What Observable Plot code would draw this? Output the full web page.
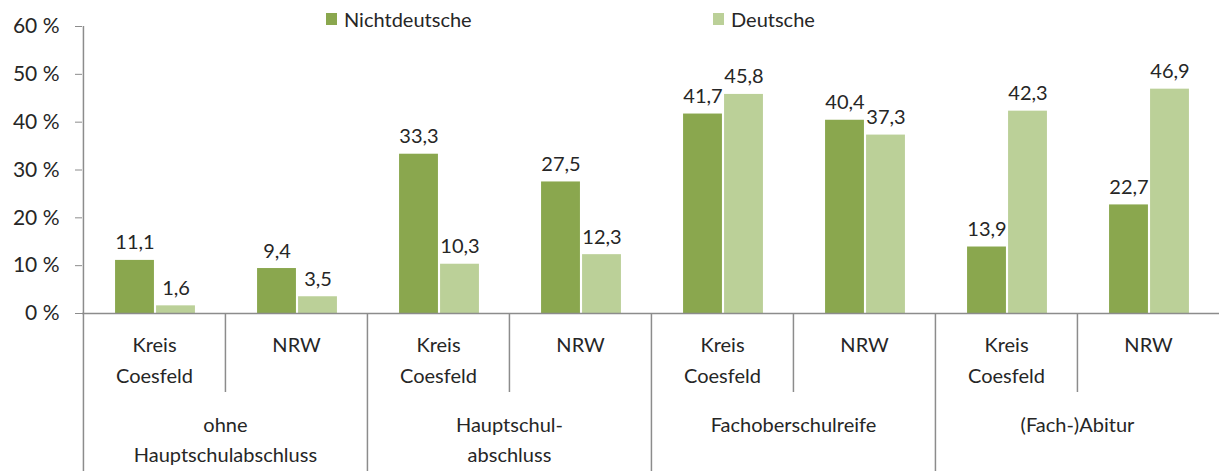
<!DOCTYPE html>
<html><head><meta charset="utf-8">
<script src="https://cdn.jsdelivr.net/npm/d3@7"></script>
<script src="https://cdn.jsdelivr.net/npm/@observablehq/plot@0.6"></script>
<style>
body{margin:0;background:#fff;}
#chart{position:relative;width:1219px;height:471px;font-family:Lato,sans-serif;color:#262626}
.leg{position:absolute;top:7px;font-size:20px;display:flex;align-items:center;font-family:Lato,sans-serif;color:#262626}
.sw{width:11px;height:12px;margin-right:7px}
</style></head><body><div id="chart"></div>
<script>
// ---- data ----
const groups = ["ohne\nHauptschulabschluss", "Hauptschul-\nabschluss", "Fachoberschulreife", "(Fach-)Abitur"];
const regions = ["Kreis\nCoesfeld", "NRW"];
const series = ["Nichtdeutsche", "Deutsche"];
const nichtdeutsche = [11.1, 9.4, 33.3, 27.5, 41.7, 40.4, 13.9, 22.7];
const deutsche = [1.6, 3.5, 10.3, 12.3, 45.8, 37.3, 42.3, 46.9];
const yTicks = [0, 10, 20, 30, 40, 50, 60];
const colors = ["#8aa74e", "#bbd098"];

// ---- layout ----
const W = 1219, H = 471, mt = 26, mb = 158, ml = 82, mr = 0;
const plotH = H - mt - mb;
const keys = [];
groups.forEach((g, gi) => regions.forEach((r, ri) => keys.push(gi + "|" + ri)));
const bw = (W - ml - mr) / keys.length;
const barW = 39, gap = 2, shift = 1;
const c = bw / 2 + shift;
const darkL = c - gap / 2 - barW, darkR = bw - (c - gap / 2);
const lightL = c + gap / 2, lightR = bw - (c + gap / 2 + barW);
const darkDx = (darkL + (bw - darkR)) / 2 - bw / 2;
const lightDx = (lightL + (bw - lightR)) / 2 - bw / 2;

const rowsN = keys.map((k, i) => ({key: k, value: nichtdeutsche[i], series: series[0]}));
const rowsD = keys.map((k, i) => ({key: k, value: deutsche[i], series: series[1]}));
const regionRows = keys.map((k, i) => ({key: k, label: regions[i % 2]}));
const groupRows = groups.map((g, gi) => ({key: keys[gi * 2 + 1], label: g}));
const groupStarts = groups.map((g, gi) => keys[gi * 2]);
const subStarts = groups.map((g, gi) => keys[gi * 2 + 1]);

const fmt = v => v.toFixed(1).replace(".", ",");
const axisCol = "#8c8c8c", textCol = "#262626", fs = 20;

const plot = Plot.plot({
  width: W, height: H,
  marginTop: mt, marginBottom: mb, marginLeft: ml, marginRight: mr,
  style: {fontFamily: "Lato, sans-serif", fontSize: fs + "px", color: textCol, background: "#fff"},
  x: {type: "band", domain: keys, padding: 0, axis: null},
  y: {domain: [0, 60], axis: null},
  marks: [
    Plot.barY(rowsN, {x: "key", y: "value", fill: colors[0], insetLeft: darkL, insetRight: darkR}),
    Plot.barY(rowsD, {x: "key", y: "value", fill: colors[1], insetLeft: lightL, insetRight: lightR}),
    Plot.text(rowsN, {x: "key", y: "value", text: d => fmt(d.value), dx: darkDx, dy: -11, lineAnchor: "bottom", fill: textCol, fontSize: fs}),
    Plot.text(rowsD, {x: "key", y: "value", text: d => fmt(d.value), dx: lightDx, dy: -11, lineAnchor: "bottom", fill: textCol, fontSize: fs}),
    Plot.axisY({ticks: yTicks, tickFormat: d => d + " %", tickSize: 7, tickPadding: 16, stroke: axisCol, fill: textCol, fontSize: 21, label: null}),
    Plot.ruleY([0], {stroke: axisCol, strokeWidth: 1.5}),
    Plot.ruleX([keys[0]], {x: d => d, dx: -bw / 2, stroke: axisCol, strokeWidth: 1.5, insetBottom: -mb}),
    Plot.ruleX(groupStarts.slice(1), {x: d => d, dx: -bw / 2, stroke: axisCol, strokeWidth: 1.5, insetTop: plotH, insetBottom: -mb}),
    Plot.ruleX(subStarts, {x: d => d, dx: -bw / 2, stroke: axisCol, strokeWidth: 1.5, insetTop: plotH, insetBottom: -79}),
    Plot.text(regionRows, {x: "key", text: "label", frameAnchor: "bottom", lineAnchor: "top", dy: 16, lineHeight: 1.55, fill: textCol, fontSize: fs}),
    Plot.text(groupRows, {x: "key", text: "label", frameAnchor: "bottom", lineAnchor: "top", dx: -bw / 2, dy: 97, lineHeight: 1.5, fill: textCol, fontSize: fs})
  ]
});
const chart = document.getElementById("chart");
chart.appendChild(plot);
const legPos = [326, 713];
series.forEach((s, i) => {
  const d = document.createElement("div");
  d.className = "leg";
  d.style.left = legPos[i] + "px";
  d.innerHTML = `<span class="sw" style="background:${colors[i]}"></span>${s}`;
  chart.appendChild(d);
});
</script></body></html>
